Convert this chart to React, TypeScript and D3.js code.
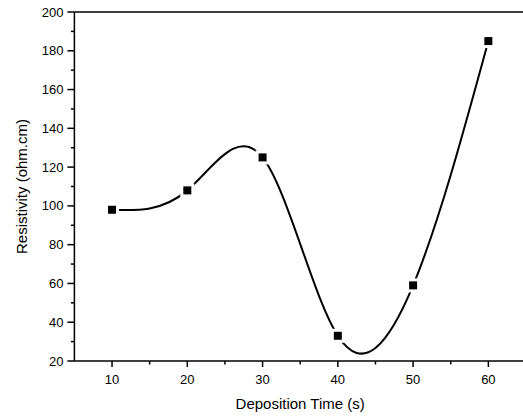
import React from "react";
import * as d3 from "d3";

const depositionTime = [10, 20, 30, 40, 50, 60];
const resistivity = [98, 108, 125, 33, 59, 185];
const xTicks = [10, 20, 30, 40, 50, 60];
const yTicks = [20, 40, 60, 80, 100, 120, 140, 160, 180, 200];
const xMinor = [15, 25, 35, 45, 55];
const yMinor = [30, 50, 70, 90, 110, 130, 150, 170, 190];

const W = 523;
const H = 418;
const left = 74.4;
const right = 526;
const top = 12;
const bottom = 361;

export default function App() {
  const x = d3.scaleLinear().domain([5, 65]).range([left, right]);
  const y = d3.scaleLinear().domain([20, 200]).range([bottom, top]);
  const pts = depositionTime.map((t, i) => [t, resistivity[i]] as [number, number]);
  const line = d3
    .line<[number, number]>()
    .x((d) => x(d[0]))
    .y((d) => y(d[1]))
    .curve(d3.curveNatural);
  const font = "'Liberation Sans', Arial, sans-serif";
  return (
    <svg
      width={W}
      height={H}
      style={{ position: "absolute", left: 0, top: 0, background: "#fff" }}
      fontFamily={font}
    >
      <rect x={0} y={0} width={W} height={H} fill="#fff" />
      <path d={line(pts) || ""} fill="none" stroke="#000" strokeWidth={2} />
      {pts.map((d, i) => (
        <g key={i}>
          <rect x={x(d[0]) - 7} y={y(d[1]) - 7} width={14} height={14} fill="#fff" />
          <rect x={x(d[0]) - 4} y={y(d[1]) - 4} width={8} height={8} fill="#000" />
        </g>
      ))}
      {/* frame */}
      <line x1={left} x2={right} y1={top} y2={top} stroke="#000" strokeWidth={1.5} />
      <line x1={left} x2={right} y1={bottom} y2={bottom} stroke="#000" strokeWidth={1.5} />
      <line x1={left} x2={left} y1={top} y2={bottom} stroke="#000" strokeWidth={1.5} />
      <line x1={right} x2={right} y1={top} y2={bottom} stroke="#000" strokeWidth={1.5} />
      {xTicks.map((t) => (
        <g key={"x" + t}>
          <line x1={x(t)} x2={x(t)} y1={bottom} y2={bottom + 6} stroke="#000" strokeWidth={1.5} />
          <text x={x(t)} y={bottom + 23} textAnchor="middle" fontSize={13} fill="#000">
            {t}
          </text>
        </g>
      ))}
      {xMinor.map((t) => (
        <line key={"xm" + t} x1={x(t)} x2={x(t)} y1={bottom} y2={bottom + 3.5} stroke="#000" strokeWidth={1.5} />
      ))}
      {yTicks.map((t) => (
        <g key={"y" + t}>
          <line x1={left - 7} x2={left} y1={y(t)} y2={y(t)} stroke="#000" strokeWidth={1.5} />
          <text x={left - 11} y={y(t) + 4.5} textAnchor="end" fontSize={13} fill="#000">
            {t}
          </text>
        </g>
      ))}
      {yMinor.map((t) => (
        <line key={"ym" + t} x1={left - 3.5} x2={left} y1={y(t)} y2={y(t)} stroke="#000" strokeWidth={1.5} />
      ))}
      <text x={(left + right) / 2} y={409} textAnchor="middle" fontSize={15} fill="#000">
        Deposition Time (s)
      </text>
      <text
        transform={`translate(27,${(top + bottom) / 2}) rotate(-90)`}
        textAnchor="middle"
        fontSize={15}
        fill="#000"
      >
        Resistivity (ohm.cm)
      </text>
    </svg>
  );
}
